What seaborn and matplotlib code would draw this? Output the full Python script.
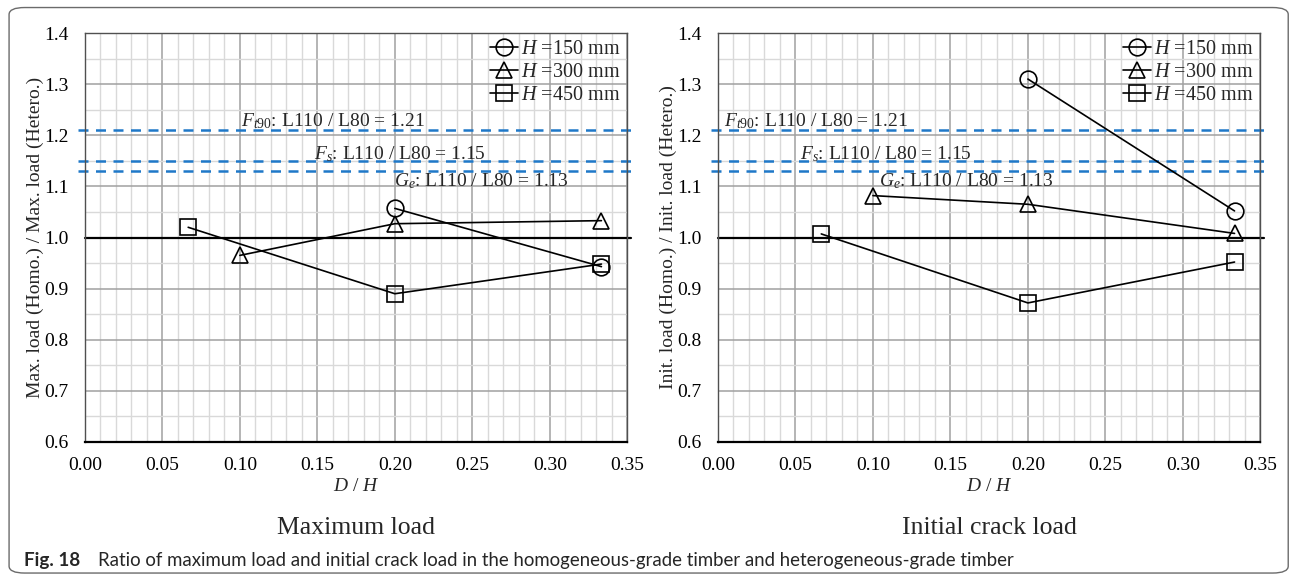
import numpy as np
import pandas as pd
import seaborn as sns
import matplotlib.pyplot as plt
from matplotlib.patches import FancyBboxPatch
from matplotlib.ticker import MultipleLocator

sns.set_theme(style="white")
plt.rcParams["font.family"] = ["Liberation Serif", "DejaVu Serif"]
plt.rcParams["mathtext.fontset"] = "custom"
plt.rcParams["mathtext.rm"] = "Liberation Serif"
plt.rcParams["mathtext.it"] = "Liberation Serif:italic"

# D/H positions for each specimen height
dh_150 = [0.2, 1 / 3]
dh_300 = [0.1, 0.2, 1 / 3]
dh_450 = [1 / 15, 0.2, 1 / 3]

# Ratio homogeneous / heterogeneous, maximum load
max_150 = [1.057, 0.943]
max_300 = [0.965, 1.027, 1.033]
max_450 = [1.020, 0.890, 0.948]

# Ratio homogeneous / heterogeneous, initial crack load
init_150 = [1.310, 1.052]
init_300 = [1.082, 1.065, 1.008]
init_450 = [1.007, 0.872, 0.952]

series_labels = ["150", "300", "450"]
series_markers = ["o", "^", "s"]

# Strength ratios L110 / L80 of the grading properties
ref_names = [r"$F_{t90}$", r"$F_{s}$", r"$G_{e}$"]
ref_values = [1.21, 1.15, 1.13]

panel_titles = ["Maximum load", "Initial crack load"]
y_labels = ["Max. load (Homo.) / Max. load (Hetero.)",
            "Init. load (Homo.) / Init. load (Hetero.)"]

fig = plt.figure(figsize=(12.96, 5.8), dpi=100)

# rounded frame around the figure
frame = FancyBboxPatch((0.007, 0.012), 0.987, 0.975,
                       boxstyle="round,pad=0,rounding_size=0.012",
                       transform=fig.transFigure, fill=False,
                       edgecolor="#6b6b6b", linewidth=1.0)
fig.patches.append(frame)

axes = [fig.add_axes([0.0655, 0.238, 0.4185, 0.705]),
        fig.add_axes([0.554, 0.238, 0.4185, 0.705])]

panel_data = [
    [(dh_150, max_150), (dh_300, max_300), (dh_450, max_450)],
    [(dh_150, init_150), (dh_300, init_300), (dh_450, init_450)],
]

# label anchor positions (x in data units) for the reference lines
ref_label_x = [[0.101, 0.148, 0.1995], [0.004, 0.0527, 0.104]]
ref_label_y = [1.227, 1.164, 1.110]

FS = 14

for k, ax in enumerate(axes):
    ax.set_xlim(0, 0.35)
    ax.set_ylim(0.6, 1.4)
    ax.xaxis.set_major_locator(MultipleLocator(0.05))
    ax.xaxis.set_minor_locator(MultipleLocator(0.01))
    ax.yaxis.set_major_locator(MultipleLocator(0.1))
    ax.yaxis.set_minor_locator(MultipleLocator(0.05))
    ax.grid(which="minor", color="#d9d9d9", linewidth=1.0, zorder=0)
    ax.grid(which="major", color="#a0a0a0", linewidth=1.1, zorder=0)
    ax.set_axisbelow(True)
    ax.xaxis.set_major_formatter(plt.FuncFormatter(lambda v, p: f"{v:.2f}"))
    ax.yaxis.set_major_formatter(plt.FuncFormatter(lambda v, p: f"{v:.1f}"))
    ax.tick_params(which="both", length=0, labelsize=FS, colors="black")
    ax.tick_params(axis="x", pad=11)
    ax.tick_params(axis="y", pad=12)
    for side in ["top", "right", "left"]:
        ax.spines[side].set_color("#505050")
        ax.spines[side].set_linewidth(1.0)
    ax.spines["bottom"].set_color("black")
    ax.spines["bottom"].set_linewidth(1.6)

    ax.axhline(1.0, xmin=0, xmax=1.006, color="black", linewidth=1.6,
               zorder=2, clip_on=False)
    for v in ref_values:
        ax.axhline(v, xmin=-0.012, xmax=1.01, color="#1f78c8", linewidth=1.8,
                   linestyle=(0, (4, 3)), zorder=2, clip_on=False)
    for name, v, xl, yl in zip(ref_names, ref_values, ref_label_x[k], ref_label_y):
        ax.text(xl, yl, f"{name}: L110 / L80 = {v:.2f}", fontsize=FS,
                ha="left", va="center", zorder=3)

    for (xs, ys), lab, mk in zip(panel_data[k], series_labels, series_markers):
        df = pd.DataFrame({"x": xs, "y": ys})
        sns.lineplot(data=df, x="x", y="y", ax=ax, color="black",
                     linewidth=1.2, marker=mk, markersize=12,
                     markerfacecolor="none", markeredgecolor="black",
                     markeredgewidth=1.2, label=rf"$H$ =${lab}$ mm",
                     zorder=4, clip_on=False)

    leg = ax.legend(loc="upper right", frameon=False, fontsize=FS + 0.5,
                    handlelength=1.4, handletextpad=0.15, labelspacing=0.2,
                    borderaxespad=0.05, borderpad=0.3)
    ax.set_xlabel(r"$D$ / $H$", fontsize=FS, labelpad=3)
    ax.set_ylabel(y_labels[k], fontsize=FS, labelpad=0)
    ax.text(0.5, -0.21, panel_titles[k], transform=ax.transAxes,
            ha="center", va="center", fontsize=18.5)

fig.text(0.0185, 0.033, "Fig. 18", fontsize=13.6, fontweight="bold",
         family=["Lato", "DejaVu Sans"], ha="left", va="center")
fig.text(0.0755, 0.033,
         "Ratio of maximum load and initial crack load in the homogeneous-grade "
         "timber and heterogeneous-grade timber",
         fontsize=13.4, family=["Lato", "DejaVu Sans"], ha="left", va="center")

fig.savefig("out.png", dpi=100)
